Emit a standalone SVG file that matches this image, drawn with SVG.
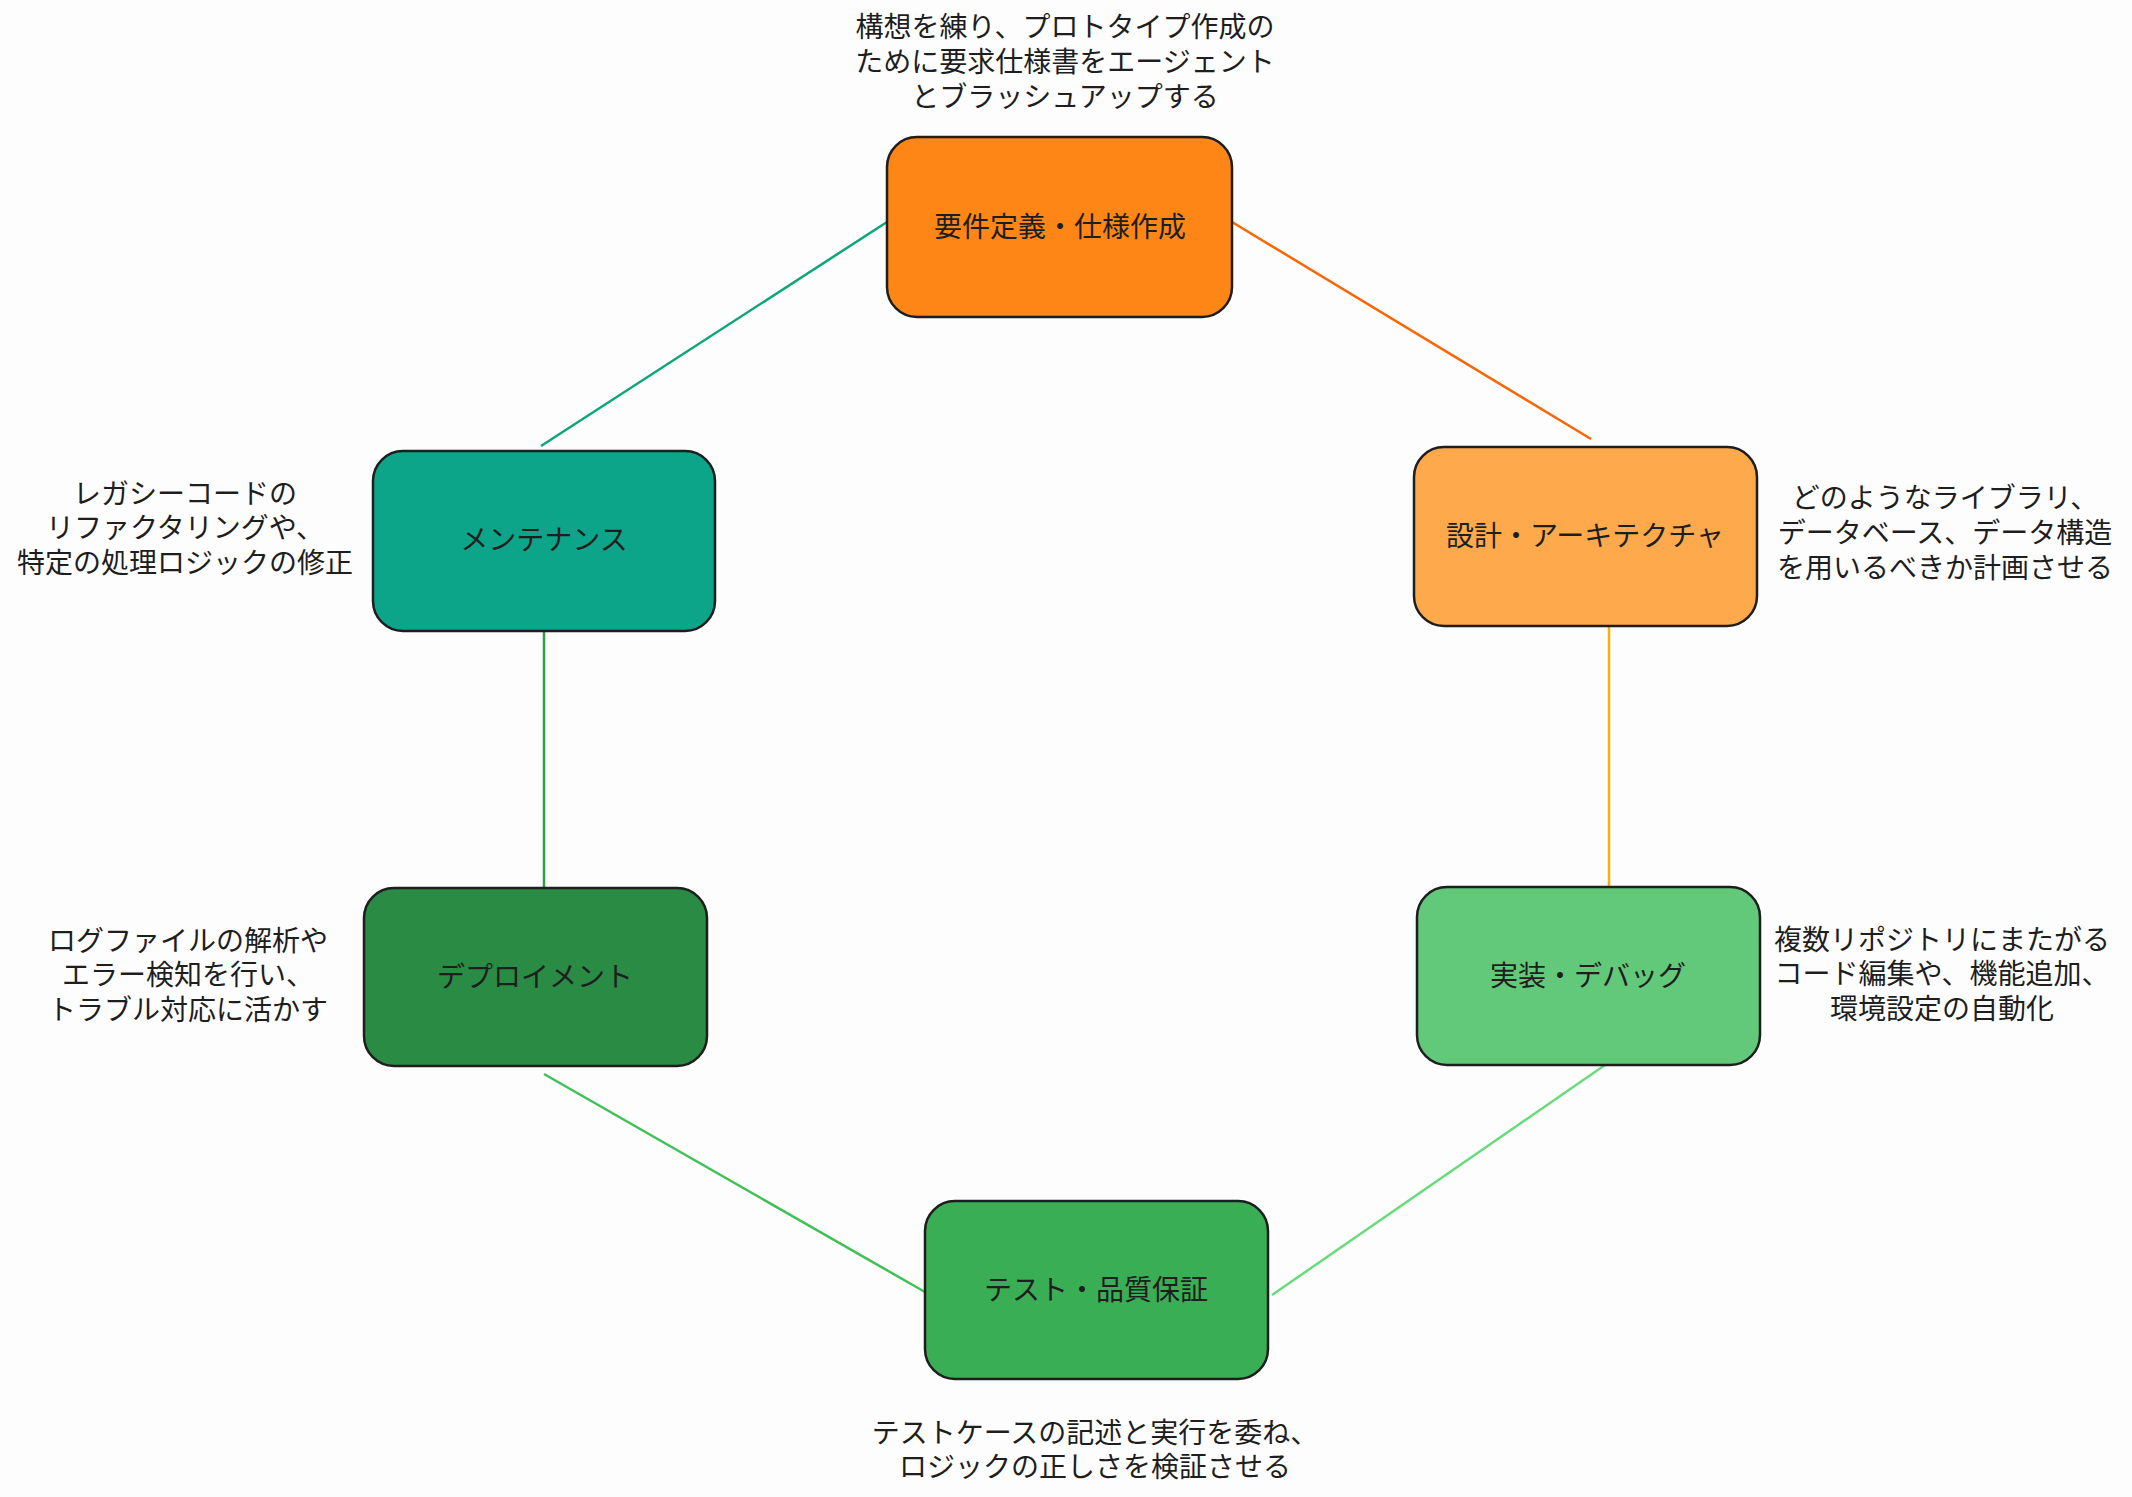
<svg xmlns="http://www.w3.org/2000/svg" width="2132" height="1497" viewBox="0 0 2132 1497">
<style>
text{font-family:"Liberation Sans","Noto Sans CJK JP",sans-serif;font-size:28px;fill:#1e1e1e;text-anchor:middle}
.box{stroke:#1e1e1e;stroke-width:2.5}
.c{fill:none;stroke-width:2.5}
</style>
<rect width="2132" height="1497" fill="#fdfdfd"/>
<g id="connectors">
<line class="c" x1="887" y1="222" x2="541" y2="446" stroke="#0ca678"/>
<line class="c" x1="1232" y1="222" x2="1591" y2="439" stroke="#f76707"/>
<line class="c" x1="1609" y1="623" x2="1609" y2="887" stroke="#fab005"/>
<line class="c" x1="1605" y1="1065" x2="1272" y2="1295" stroke="#69db7c"/>
<line class="c" x1="925" y1="1292" x2="544" y2="1074" stroke="#40c057"/>
<line class="c" x1="544" y1="631" x2="544" y2="888" stroke="#2f9e44"/>
</g>
<g id="n1"><rect class="box" x="887" y="137" width="345" height="180" rx="30" fill="#fd8616"/><text x="1060" y="237">要件定義・仕様作成</text>
<text x="1065" y="37">構想を練り、プロトタイプ作成の</text><text x="1065" y="72">ために要求仕様書をエージェント</text><text x="1065" y="107">とブラッシュアップする</text></g>
<g id="n2"><rect class="box" x="1414" y="447" width="343" height="179" rx="30" fill="#ffa94d"/><text x="1585" y="546">設計・アーキテクチャ</text>
<text x="1945" y="508">どのようなライブラリ、</text><text x="1945" y="543">データベース、データ構造</text><text x="1945" y="578">を用いるべきか計画させる</text></g>
<g id="n3"><rect class="box" x="1417" y="887" width="343" height="178" rx="30" fill="#62c97a"/><text x="1588" y="986">実装・デバッグ</text>
<text x="1942" y="950">複数リポジトリにまたがる</text><text x="1942" y="984">コード編集や、機能追加、</text><text x="1942" y="1019">環境設定の自動化</text></g>
<g id="n4"><rect class="box" x="925" y="1201" width="343" height="178" rx="30" fill="#3aae55"/><text x="1096" y="1300">テスト・品質保証</text>
<text x="1095" y="1443">テストケースの記述と実行を委ね、</text><text x="1095" y="1477">ロジックの正しさを検証させる</text></g>
<g id="n5"><rect class="box" x="364" y="888" width="343" height="178" rx="30" fill="#2a8b45"/><text x="535" y="987">デプロイメント</text>
<text x="188" y="951">ログファイルの解析や</text><text x="188" y="985">エラー検知を行い、</text><text x="188" y="1020">トラブル対応に活かす</text></g>
<g id="n6"><rect class="box" x="373" y="451" width="342" height="180" rx="30" fill="#0ca589"/><text x="544" y="550">メンテナンス</text>
<text x="185" y="504">レガシーコードの</text><text x="185" y="538">リファクタリングや、</text><text x="185" y="573">特定の処理ロジックの修正</text></g>
</svg>
